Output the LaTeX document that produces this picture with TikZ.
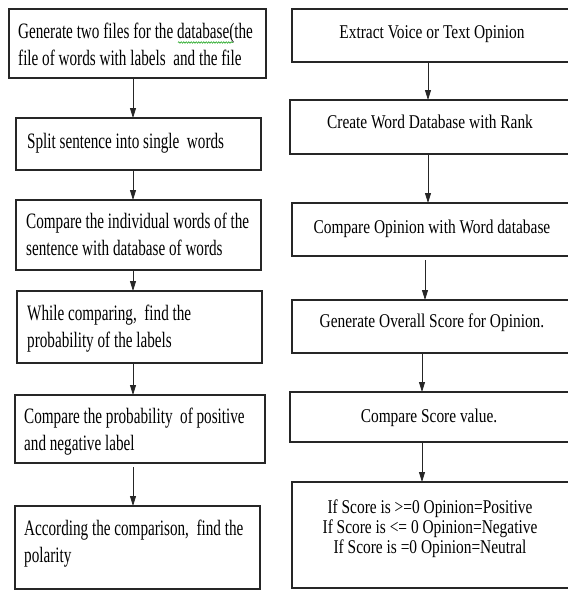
\documentclass[tikz,border=0pt]{standalone}
\usepackage{fontspec}
\usetikzlibrary{arrows.meta,decorations.pathmorphing}
\newfontfamily\lfont[FakeStretch=0.69]{Liberation Serif}
\newfontfamily\rfont[FakeStretch=0.79]{Liberation Serif}
\begin{document}
\begin{tikzpicture}[x=1pt,y=-1pt,
  box/.style={draw=black!85, line width=1.2pt, inner sep=0pt, outer sep=0pt, anchor=north west},
  ltxt/.style={anchor=base west, inner sep=0pt, align=left, font=\lfont\fontsize{22}{27}\selectfont},
  rtxt/.style={anchor=base, inner sep=0pt, align=center, font=\rfont\fontsize{19.5}{20}\selectfont},
  arr/.style={line width=0.8pt, draw=black!85, -{Triangle[width=6pt,length=10pt]}}]
\useasboundingbox (0,0) rectangle (568,590);
\fill[white] (0,0) rectangle (568,590);
\clip (0,0) rectangle (568,590);
% left column boxes
\node[box, minimum width=257pt, minimum height=69pt] (L1) at (9,9) {};
\node[box, minimum width=245pt, minimum height=52pt] (L2) at (16,118) {};
\node[box, minimum width=245pt, minimum height=70pt] (L3) at (16,200) {};
\node[box, minimum width=245pt, minimum height=72pt] (L4) at (17,291) {};
\node[box, minimum width=250pt, minimum height=68pt] (L5) at (15,395) {};
\node[box, minimum width=245pt, minimum height=83pt] (L6) at (15,506) {};
% right column boxes (cut by the right edge)
\node[box, minimum width=320pt, minimum height=53pt] (R1) at (292,9) {};
\node[box, minimum width=320pt, minimum height=54pt] (R2) at (290,100) {};
\node[box, minimum width=320pt, minimum height=53pt] (R3) at (292,203) {};
\node[box, minimum width=320pt, minimum height=53pt] (R4) at (292,300) {};
\node[box, minimum width=320pt, minimum height=50pt] (R5) at (290,392) {};
\node[box, minimum width=320pt, minimum height=106pt] (R6) at (292,482) {};
% left texts (anchor base = baseline of the last line)
\node[ltxt] (t1) at (18,65) {Generate two files for the database(the\\file of words with labels\ \ and the file};
\node[ltxt] (t2) at (27,148) {Split sentence into single\ \ words};
\node[ltxt] (t3) at (26,255) {Compare the individual words of the\\sentence with database of words};
\node[ltxt] (t4) at (27,347) {While comparing,\ \ find the\\probability of the labels};
\node[ltxt] (t5) at (24,450) {Compare the probability\ \ of positive\\and negative label};
\node[ltxt] (t6) at (24,562) {According the comparison,\ \ find the\\polarity};
% spell-check underline
\draw[green!60!black, line width=0.5pt, decorate, decoration={snake, amplitude=0.8pt, segment length=2.5pt}] (178,42.5) -- (233,42.5);
% right texts
\node[rtxt] (s1) at (432,38) {Extract Voice or Text Opinion};
\node[rtxt] (s2) at (430,128) {Create Word Database with Rank};
\node[rtxt] (s3) at (432,233) {Compare Opinion with Word database};
\node[rtxt] (s4) at (432,327) {Generate Overall Score for Opinion.};
\node[rtxt] (s5) at (429,422) {Compare Score value.};
\node[rtxt] (s6) at (430,553) {If Score is >=0 Opinion=Positive\\If Score is <= 0 Opinion=Negative\\If Score is =0 Opinion=Neutral};
% connectors
\coordinate (lx) at (133,0);
\coordinate (ra) at (428,0);
\coordinate (rb) at (425,0);
\coordinate (rc) at (422,0);
\draw[arr] (L1.south -| lx) -- (L2.north -| lx);
\draw[arr] (L2.south -| lx) -- (L3.north -| lx);
\draw[arr] (L3.south -| lx) -- (L4.north -| lx);
\draw[arr] (L4.south -| lx) -- (L5.north -| lx);
\draw[arr, shorten <=4pt] (L5.south -| lx) -- (L6.north -| lx);
\draw[arr] (R1.south -| ra) -- (R2.north -| ra);
\draw[arr] (R2.south -| ra) -- (R3.north -| ra);
\draw[arr, shorten <=4pt] (R3.south -| rb) -- (R4.north -| rb);
\draw[arr] (R4.south -| rc) -- (R5.north -| rc);
\draw[arr] (R5.south -| rc) -- (R6.north -| rc);
\end{tikzpicture}
\end{document}
